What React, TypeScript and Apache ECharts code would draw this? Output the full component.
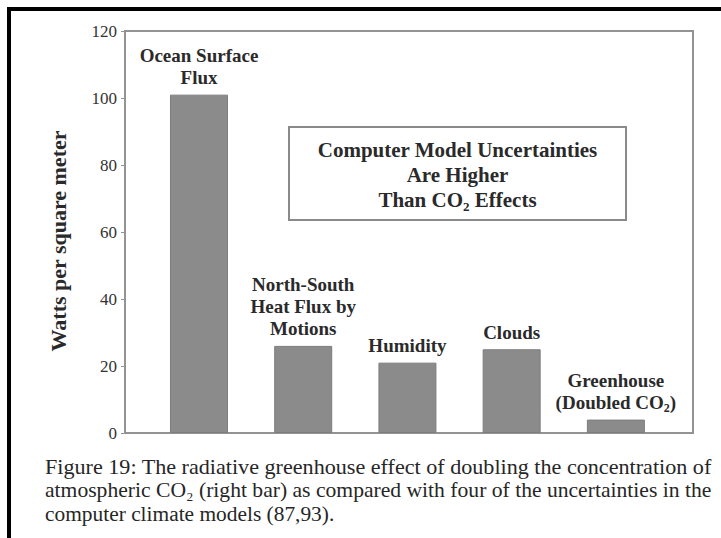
import { useEffect, useRef } from "react";
import * as echarts from "echarts";

// ---- data ----
const categories = [
  "Ocean Surface\nFlux",
  "North-South\nHeat Flux by\nMotions",
  "Humidity",
  "Clouds",
  "Greenhouse\n(Doubled CO{sub|2})",
];
const values = [101, 26, 21, 25, 4];
const yMin = 0;
const yMax = 120;
const yInterval = 20;
const yAxisTitle = "Watts per square meter";
const boxLines = ["Computer Model Uncertainties", "Are Higher", "Than CO{sub|2} Effects"];
const captionLines = [
  "Figure 19: The radiative greenhouse effect of doubling the concentration of",
  "atmospheric CO\u2082 (right bar) as compared with four of the uncertainties in the",
  "computer climate models (87,93).",
];

export default function App() {
  const ref = useRef<HTMLDivElement>(null);
  useEffect(() => {
    const chart = echarts.init(ref.current!, null, { renderer: "svg" });
    const serif = '"Liberation Serif", "Times New Roman", serif';
    const capFontSize = 20;
    const ctx = document.createElement("canvas").getContext("2d")!;
    ctx.font = `${capFontSize}px "Liberation Serif"`;
    const capLeft = 45;
    const capRight = 712;
    const capTop = 467;
    const capGap = 23.5;

    const captionGraphics = captionLines.map((t, i) => {
      const w = ctx.measureText(t).width;
      const justify = i < captionLines.length - 1;
      const sx = justify && w > 0 ? (capRight - capLeft) / w : 1.07;
      return {
        type: "text",
        x: capLeft,
        y: capTop + i * capGap,
        scaleX: sx,
        style: {
          text: t,
          fontFamily: serif,
          fontSize: capFontSize,
          fill: "#262626",
          align: "left",
          verticalAlign: "middle",
        },
      };
    });

    chart.setOption({
      animation: false,
      backgroundColor: "#ffffff",
      grid: {
        left: 125,
        top: 31,
        width: 568,
        height: 402,
        show: true,
        borderColor: "#939393",
        borderWidth: 2,
        backgroundColor: "transparent",
      },
      xAxis: {
        type: "value",
        min: -0.71,
        max: 4.74,
        axisLine: { show: false },
        axisTick: { show: false },
        axisLabel: { show: false },
        splitLine: { show: false },
      },
      yAxis: {
        type: "value",
        min: yMin,
        max: yMax,
        interval: yInterval,
        name: yAxisTitle,
        nameLocation: "middle",
        nameGap: 56,
        nameTextStyle: {
          fontFamily: serif,
          fontWeight: "bold",
          fontSize: 22,
          color: "#2a2a2a",
          padding: [0, 0, 0, -18],
        },
        axisLine: { show: true, onZero: false, lineStyle: { color: "#939393", width: 2 } },
        axisTick: { show: true, length: 4, lineStyle: { color: "#939393", width: 1 } },
        axisLabel: {
          margin: 8,
          fontFamily: serif,
          fontSize: 17,
          color: "#333333",
        },
        splitLine: { show: false },
      },
      series: [
        {
          type: "bar",
          barWidth: 58,
          data: values.map((v, i) => [i, v]),
          itemStyle: { color: "#8b8b8b", borderColor: "#7d7d7d", borderWidth: 1 },
          label: {
            show: true,
            position: "top",
            distance: 6,
            formatter: (p: any) => categories[p.dataIndex],
            fontFamily: serif,
            fontWeight: "bold",
            fontSize: 19,
            lineHeight: 22,
            color: "#2a2a2a",
            align: "center",
            rich: {
              sub: {
                fontFamily: serif,
                fontWeight: "bold",
                fontSize: 12,
                lineHeight: 12,
                color: "#2a2a2a",
                verticalAlign: "bottom",
              },
            },
          },
        },
      ],
      graphic: [
        { type: "rect", shape: { x: 7, y: 7, width: 714, height: 4 }, style: { fill: "#000" } },
        { type: "rect", shape: { x: 7, y: 7, width: 4, height: 531 }, style: { fill: "#000" } },
        {
          type: "rect",
          shape: { x: 289, y: 127, width: 337, height: 93 },
          style: { fill: "#ffffff", stroke: "#8a8a8a", lineWidth: 2 },
        },
        {
          type: "text",
          x: 457.5,
          y: 175,
          style: {
            text: boxLines.join("\n"),
            fontFamily: serif,
            fontWeight: "bold",
            fontSize: 21,
            lineHeight: 25,
            fill: "#2a2a2a",
            align: "center",
            verticalAlign: "middle",
            rich: {
              sub: {
                fontFamily: serif,
                fontWeight: "bold",
                fontSize: 13,
                lineHeight: 13,
                fill: "#2a2a2a",
                verticalAlign: "bottom",
              },
            },
          },
        },
        ...captionGraphics,
      ],
    });
    return () => chart.dispose();
  }, []);
  return (
    <div
      ref={ref}
      style={{ position: "fixed", left: 0, top: 0, width: 721, height: 538, background: "#fff" }}
    />
  );
}
